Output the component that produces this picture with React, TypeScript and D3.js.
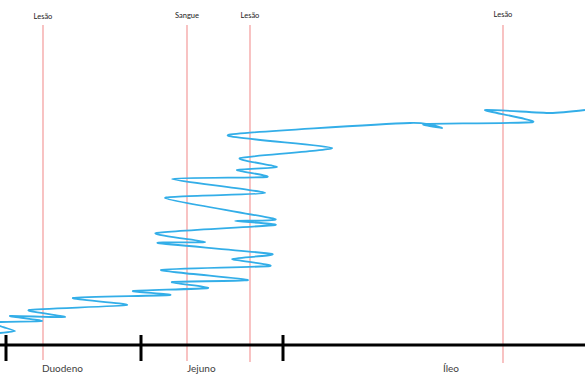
import React, { useEffect, useRef } from 'react';
import * as d3 from 'd3';

// position along the small intestine (arbitrary units) and level
const traceX = [0, 3, 0, 0, 8.4, 2, 13, 5.8, 25.4, 14.6, 34, 26.6, 41.6, 34.4, 49.6, 32.2, 54, 46.4, 54.4, 31.6, 41, 31.2, 55, 47, 55, 33, 53, 34.4, 53.4, 47.4, 55.4, 48, 66.4, 45.6, 82, 88.4, 85, 106.6, 97, 110, 117];
const traceY = [2.4, 2.8, 3.8, 4.6, 4.8, 5.8, 5.6, 7, 8, 9.4, 10, 10.8, 11.4, 12.6, 13, 15, 15.8, 17.2, 18.2, 20.4, 20.6, 22.4, 24, 24.8, 25.2, 29.4, 30.4, 33.2, 33.6, 35, 35.6, 37.4, 39.4, 42, 44.4, 43.4, 44.2, 44.6, 47, 46.4, 47];

const regionNames = ['Duodeno', 'Jejuno', 'Íleo'];
const regionStarts = [1.2, 28.2, 56.6];
const regionLabelAt = [8.4, 37.4, 88.6];

const markerLabels = ['Lesão', 'Sangue', 'Lesão', 'Lesão'];
const markerAt = [8.6, 37.4, 50, 100.6];

const App: React.FC = () => {
  const svgRef = useRef<SVGSVGElement>(null);

  useEffect(() => {
    if (!svgRef.current) return;
    const svg = d3.select(svgRef.current);
    svg.selectAll('*').remove();

    const width = 585;
    const height = 390;

    const x = d3.scaleLinear().domain([0, 117]).range([0, width]);
    const y = d3.scaleLinear().domain([0, 69]).range([345, 0]);
    const axisY = y(0);

    svg.attr('width', width).attr('height', height);

    // marker lines
    markerAt.forEach((m, i) => {
      svg.append('line')
        .attr('x1', x(m)).attr('x2', x(m))
        .attr('y1', 25).attr('y2', axisY + 15 + i)
        .attr('stroke', '#f49a9a')
        .attr('stroke-width', 1.2);
      svg.append('text')
        .attr('x', x(m))
        .attr('y', 19 - i * 0.7)
        .attr('text-anchor', 'middle')
        .attr('font-family', 'Lato, sans-serif')
        .attr('font-size', '7.5px')
        .attr('fill', '#222')
        .text(markerLabels[i]);
    });

    // trace
    const pts = traceX.map((v, i) => [v, traceY[i]] as [number, number]);
    const line = d3.line<[number, number]>()
      .x(d => x(d[0]))
      .y(d => y(d[1]))
      .curve(d3.curveCardinal.tension(0.4));

    svg.append('path')
      .datum(pts)
      .attr('d', line)
      .attr('fill', 'none')
      .attr('stroke', '#33aee8')
      .attr('stroke-width', 1.8)
      .attr('stroke-linejoin', 'round');

    // axis
    svg.append('line')
      .attr('x1', 0).attr('x2', width)
      .attr('y1', axisY).attr('y2', axisY)
      .attr('stroke', '#000')
      .attr('stroke-width', 3);

    regionStarts.forEach(s => {
      svg.append('line')
        .attr('x1', x(s)).attr('x2', x(s))
        .attr('y1', axisY - 10).attr('y2', axisY + 16)
        .attr('stroke', '#000')
        .attr('stroke-width', 3);
    });

    regionNames.forEach((n, i) => {
      svg.append('text')
        .attr('x', x(regionLabelAt[i]))
        .attr('y', axisY + 27)
        .attr('font-family', 'Lato, sans-serif')
        .attr('font-size', '10px')
        .attr('fill', '#404040')
        .text(n);
    });
  }, []);

  return (
    <svg ref={svgRef} style={{ position: 'absolute', left: 0, top: 0, background: '#fff' }}></svg>
  );
};

export default App;
